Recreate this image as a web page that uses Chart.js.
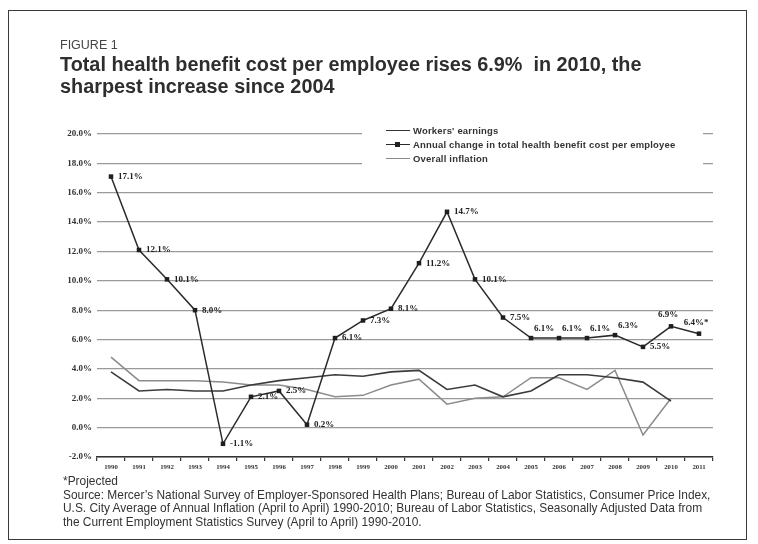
<!DOCTYPE html>
<html>
<head>
<meta charset="utf-8">
<script src="https://cdn.jsdelivr.net/npm/chart.js@4.4.1/dist/chart.umd.min.js"></script>
<style>
  html, body { margin:0; padding:0; background:#fff; }
  #wrap { position:relative; width:758px; height:544px; overflow:hidden; background:#fff; }
  #c { position:absolute; left:0; top:0; }
  .frame { position:absolute; left:8px; top:10px; width:739px; height:530px; border:1.5px solid #3a3a3a; box-sizing:border-box; pointer-events:none; }
  .txt { position:absolute; white-space:nowrap; color:#333; font-family:"Liberation Sans", Arial, sans-serif; }
  #fig { left:60px; top:38px; font-size:12.5px; line-height:14px; color:#444; }
  .title { left:60px; font-weight:bold; font-size:19.5px; line-height:22px; color:#2e2e2e; }
  .src { left:63px; font-family:"Liberation Sans Narrow","Arial Narrow","Liberation Sans",Arial,sans-serif; font-size:13px; line-height:13.5px; color:#333; }
  #legend { position:absolute; left:362px; top:124px; width:341px; height:44px; background:#fff; }
  .lrow { position:absolute; left:0; height:12px; width:341px; }
  .lline { position:absolute; left:24px; width:24px; top:5px; height:0; }
  .lmark { position:absolute; left:33px; top:3px; width:5px; height:5px; background:#222; }
  .ltxt { position:absolute; left:51px; top:0; line-height:12px; font-weight:bold; font-size:8.5px; color:#333; white-space:nowrap; font-family:"Liberation Sans", Arial, sans-serif; letter-spacing:0.2px; }
</style>
</head>
<body>
<div id="wrap">
  <canvas id="c" width="758" height="544"></canvas>
  <div class="frame"></div>
  <div class="txt" id="fig">FIGURE 1</div>
  <div class="txt title" id="t1" style="top:53px;">Total health benefit cost per employee rises 6.9%&nbsp; in 2010, the</div>
  <div class="txt title" id="t2" style="top:75px;">sharpest increase since 2004</div>
  <div class="txt src" id="s0" style="top:475px;">*Projected</div>
  <div class="txt src" id="s1" style="top:488.5px;">Source: Mercer’s National Survey of Employer-Sponsored Health Plans; Bureau of Labor Statistics, Consumer Price Index,</div>
  <div class="txt src" id="s2" style="top:502px;">U.S. City Average of Annual Inflation (April to April) 1990-2010; Bureau of Labor Statistics, Seasonally Adjusted Data from</div>
  <div class="txt src" id="s3" style="top:515.5px;">the Current Employment Statistics Survey (April to April) 1990-2010.</div>
  <div id="legend">
    <div class="lrow" style="top:1px;"><div class="lline" style="border-top:1.5px solid #333;"></div><div class="ltxt" id="lg1"></div></div>
    <div class="lrow" style="top:15px;"><div class="lline" style="border-top:1.5px solid #2b2b2b;"></div><div class="lmark"></div><div class="ltxt" id="lg2"></div></div>
    <div class="lrow" style="top:29px;"><div class="lline" style="border-top:1.5px solid #8a8a8a;"></div><div class="ltxt" id="lg3"></div></div>
  </div>
</div>
<script>
// ---- data ----
const years = ['1990','1991','1992','1993','1994','1995','1996','1997','1998','1999','2000','2001','2002','2003','2004','2005','2006','2007','2008','2009','2010','2011'];
const healthCost = [17.1,12.1,10.1,8.0,-1.1,2.1,2.5,0.2,6.1,7.3,8.1,11.2,14.7,10.1,7.5,6.1,6.1,6.1,6.3,5.5,6.9,6.4];
const healthLabels = ['17.1%','12.1%','10.1%','8.0%','-1.1%','2.1%','2.5%','0.2%','6.1%','7.3%','8.1%','11.2%','14.7%','10.1%','7.5%','6.1%','6.1%','6.1%','6.3%','5.5%','6.9%','6.4%*'];
const workersEarnings = [3.8,2.5,2.6,2.5,2.5,2.9,3.2,3.4,3.6,3.5,3.8,3.9,2.6,2.9,2.1,2.5,3.6,3.6,3.4,3.1,1.8,null];
const overallInflation = [4.8,3.2,3.2,3.2,3.1,2.9,2.9,2.6,2.1,2.2,2.9,3.3,1.6,2.0,2.1,3.4,3.4,2.6,3.9,-0.5,2.0,null];
const seriesNames = ["Workers' earnings","Annual change in total health benefit cost per employee","Overall inflation"];
const yTickValues = [-2,0,2,4,6,8,10,12,14,16,18,20];

// label placement codes (style, not data): r = right, a = above-right, t = above-centred
const labelPlacement = ['r','r','r','r','r','r','r','r','r','r','r','r','r','r','r','a','a','a','a','r','t','t'];

document.getElementById('lg1').textContent = seriesNames[0];
document.getElementById('lg2').textContent = seriesNames[1];
document.getElementById('lg3').textContent = seriesNames[2];

function fitWidth(id, target){
  const el = document.getElementById(id);
  const w = el.getBoundingClientRect().width;
  const fs = parseFloat(getComputedStyle(el).fontSize);
  return fs * target / w;
}
(function(){
  const ft = fitWidth('t1', 582);
  document.getElementById('t1').style.fontSize = ft+'px';
  document.getElementById('t2').style.fontSize = ft+'px';
  const fsr = fitWidth('s1', 648);
  ['s0','s1','s2','s3'].forEach(id=>document.getElementById(id).style.fontSize = fsr+'px');
  const fl = fitWidth('lg2', 264);
  ['lg1','lg2','lg3'].forEach(id=>document.getElementById(id).style.fontSize = fl+'px');
})();

const valueLabels = {
  id:'valueLabels',
  afterDatasetsDraw(chart){
    const meta = chart.getDatasetMeta(0);
    const ctx = chart.ctx;
    ctx.save();
    ctx.font = 'bold 9px "Liberation Serif", "Times New Roman", serif';
    ctx.fillStyle = '#222';
    meta.data.forEach((pt,i)=>{
      const t = healthLabels[i];
      const p = labelPlacement[i];
      if(p==='r'){ ctx.textAlign='left'; ctx.textBaseline='middle'; ctx.fillText(t, pt.x+7, pt.y); }
      else if(p==='a'){ ctx.textAlign='left'; ctx.textBaseline='bottom'; ctx.fillText(t, pt.x+3, pt.y-5); }
      else { ctx.textAlign='center'; ctx.textBaseline='bottom'; ctx.fillText(t, pt.x-3, pt.y-7); }
    });
    ctx.restore();
  }
};

new Chart(document.getElementById('c'), {
  type:'line',
  data:{
    labels: years,
    datasets:[
      { label: seriesNames[1], data: healthCost, borderColor:'#2b2b2b', borderWidth:1.5, pointStyle:'rect', pointRadius:3.2, pointBackgroundColor:'#1e1e1e', pointBorderWidth:0, tension:0 },
      { label: seriesNames[0], data: workersEarnings, borderColor:'#3c3c3c', borderWidth:1.6, pointRadius:0, tension:0 },
      { label: seriesNames[2], data: overallInflation, borderColor:'#8c8c8c', borderWidth:1.5, pointRadius:0, tension:0 }
    ]
  },
  options:{
    responsive:false,
    animation:false,
    devicePixelRatio:1,
    layout:{ padding:{ left:0, top:134, right:45, bottom:67 } },
    plugins:{ legend:{display:false}, tooltip:{enabled:false}, title:{display:false} },
    scales:{
      x:{
        type:'category',
        offset:true,
        grid:{ offset:true, drawOnChartArea:false, drawTicks:true, tickLength:4, color:'#333', lineWidth:1.2 },
        border:{ display:true, color:'#333', width:1.6 },
        ticks:{ autoSkip:false, maxRotation:0, padding:2, color:'#333', font:{ family:'"Liberation Serif", serif', size:6.8, weight:'bold' } },
        afterFit(s){ s.height = 20; }
      },
      y:{
        min:-2, max:20,
        afterBuildTicks(s){ s.ticks = yTickValues.map(v=>({value:v})); },
        ticks:{ padding:5, color:'#333', font:{ family:'"Liberation Serif", serif', size:9, weight:'bold' }, callback:(v)=>v.toFixed(1)+'%' },
        grid:{ color:'#9a9a9a', lineWidth:1.2, drawTicks:false },
        border:{ display:false },
        afterFit(s){ s.width = 97; }
      }
    }
  },
  plugins:[valueLabels]
});
</script>
</body>
</html>
